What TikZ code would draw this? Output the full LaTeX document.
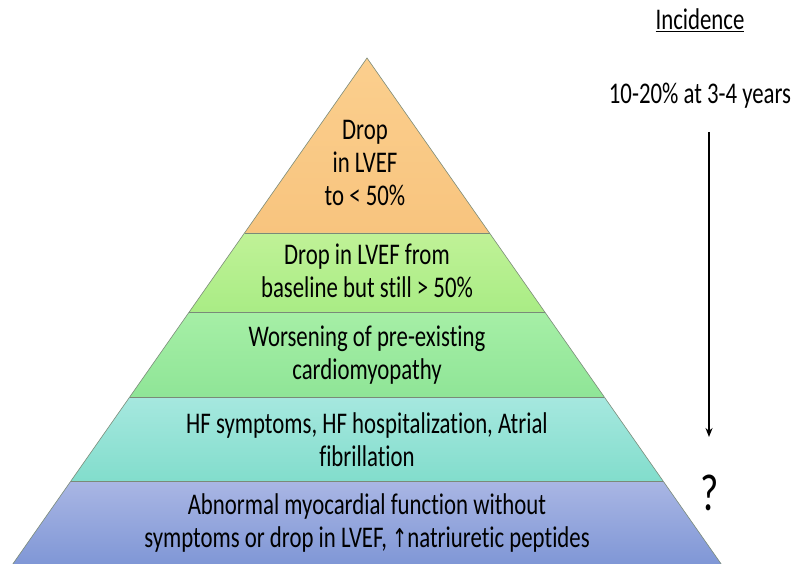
\documentclass[tikz,border=0pt]{standalone}
\usepackage{fontspec}
\setmainfont{Carlito}[FakeStretch=0.76,Ligatures=NoCommon]
\newfontfamily\symfont{DejaVu Sans}[FakeStretch=0.7]
\usetikzlibrary{arrows.meta}
\definecolor{orT}{HTML}{FBCF8E}\definecolor{orB}{HTML}{F8C47E}
\definecolor{liT}{HTML}{C0F297}\definecolor{liB}{HTML}{A9EC85}
\definecolor{grT}{HTML}{A6EFA6}\definecolor{grB}{HTML}{8FE597}
\definecolor{teT}{HTML}{A6E8DF}\definecolor{teB}{HTML}{82DDCC}
\definecolor{blT}{HTML}{A9B6E4}\definecolor{blB}{HTML}{8097D6}
\definecolor{edge}{HTML}{7A8A78}
\tikzset{
  band/.style={draw=edge, line width=0.6pt},
  lbl/.style={align=center, font=\fontsize{30}{33}\selectfont, inner sep=0pt},
}
\begin{document}
\begin{tikzpicture}[x=1pt,y=-1pt]
\useasboundingbox (0,0) rectangle (796,564);
% pyramid geometry: apex (367,58), half slope 0.70
\coordinate (apex) at (367,58);
\shade[top color=orT,bottom color=orB] (367,58) -- (244.5,233) -- (489.5,233) -- cycle;
\shade[top color=liT,bottom color=liB] (244.5,233) -- (189.2,312) -- (544.8,312) -- (489.5,233) -- cycle;
\shade[top color=grT,bottom color=grB] (189.2,312) -- (129.7,397) -- (604.3,397) -- (544.8,312) -- cycle;
\shade[top color=teT,bottom color=teB] (129.7,397) -- (70.9,481) -- (663.1,481) -- (604.3,397) -- cycle;
\shade[top color=blT,bottom color=blB] (70.9,481) -- (12.8,564) -- (721.2,564) -- (663.1,481) -- cycle;
\draw[band] (12.8,564) -- (367,58) -- (721.2,564);
\draw[band] (244.5,233) -- (489.5,233);
\draw[band] (189.2,312) -- (544.8,312);
\draw[band] (129.7,397) -- (604.3,397);
\draw[band] (70.9,481) -- (663.1,481);
% labels
\node[lbl] (t1) at (365,163) {Drop\\in LVEF\\to < 50\%};
\node[lbl] (t2) at (367,271) {Drop in LVEF from\\baseline but still > 50\%};
\node[lbl] (t3) at (367,355) {Worsening of pre-existing\\cardiomyopathy};
\node[lbl] (t4) at (367,440) {HF symptoms, HF hospitalization, Atrial\\fibrillation};
\node[lbl] (t5) at (367,523) {Abnormal myocardial function without\\symptoms or drop in LVEF, {\symfont\fontsize{26}{33}\selectfont↑}natriuretic peptides};
% incidence column
\node[lbl] (inc) at (700,20) {\underline{Incidence}};
\node[lbl] (rate) at (700,96) {10-20\% at 3-4 years};
\coordinate (a1) at (709,132);
\coordinate (a2) at (709,437);
\draw[line width=1.6pt,-{Stealth[length=9pt,width=7pt]}] (a1) -- (a2);
\node[lbl,font=\fontsize{52}{52}\selectfont] (q) at (710,493) {?};
\end{tikzpicture}
\end{document}
